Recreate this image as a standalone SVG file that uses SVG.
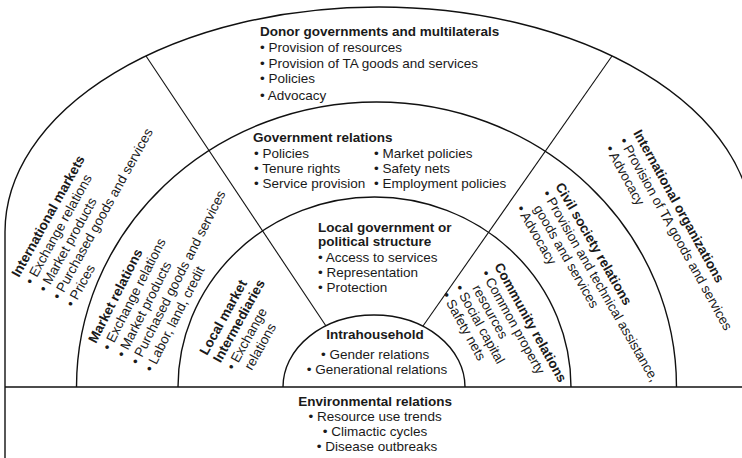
<svg xmlns="http://www.w3.org/2000/svg" width="742" height="458" viewBox="0 0 742 458">
<style>
.bg{fill:#fff}
.arc{fill:none;stroke:#111;stroke-width:1.4}
.div{fill:none;stroke:#111;stroke-width:1.1}
text{font-family:"Liberation Sans",Arial,sans-serif;font-size:13.5px;fill:#1a1a1a}
.b{font-weight:bold}
.c{text-anchor:middle}
</style>
<rect class="bg" x="0" y="0" width="742" height="458"/>
<g id="connectors">
<path class="arc" d="M5,458 L5,232 A374,225 0 0 1 753,232 L753,458"/>
<path class="arc" d="M76.5,387 A300,285 0 0 1 676.5,387"/>
<path class="arc" d="M178,387 A196.5,190 0 0 1 571,387"/>
<path class="arc" d="M283,387 A91,72 0 0 1 465,387"/>
<line class="div" x1="146" y1="56" x2="326" y2="326"/>
<line class="div" x1="612" y1="56" x2="423" y2="326"/>
<line class="arc" x1="5" y1="387" x2="742" y2="387"/>
</g>
<g id="donor">
<text x="260" y="35.5"><tspan class="b">Donor governments and multilaterals</tspan>
<tspan x="260" y="52">• Provision of resources</tspan>
<tspan x="260" y="67.5">• Provision of TA goods and services</tspan>
<tspan x="260" y="83">• Policies</tspan>
<tspan x="260" y="100">• Advocacy</tspan></text>
</g>
<g id="government">
<text x="253" y="141.5"><tspan class="b">Government relations</tspan>
<tspan x="254" y="157.5">• Policies</tspan>
<tspan x="254" y="172.5">• Tenure rights</tspan>
<tspan x="254" y="187.5">• Service provision</tspan>
<tspan x="374" y="157.5">• Market policies</tspan>
<tspan x="374" y="172.5">• Safety nets</tspan>
<tspan x="374" y="187.5">• Employment policies</tspan></text>
</g>
<g id="local-government">
<text x="318" y="232"><tspan class="b">Local government or</tspan>
<tspan class="b" x="318" y="246">political structure</tspan>
<tspan x="318" y="262">• Access to services</tspan>
<tspan x="318" y="277">• Representation</tspan>
<tspan x="318" y="292">• Protection</tspan></text>
</g>
<g id="intrahousehold">
<text class="c" x="377" y="339"><tspan class="b">Intrahousehold</tspan>
<tspan x="377" y="359">• Gender relations</tspan>
<tspan x="377" y="374">• Generational relations</tspan></text>
</g>
<g id="environmental">
<text class="c" x="377" y="406"><tspan class="b">Environmental relations</tspan>
<tspan x="377" y="421">• Resource use trends</tspan>
<tspan x="377" y="436">• Climactic cycles</tspan>
<tspan x="377" y="451">• Disease outbreaks</tspan></text>
</g>
<g id="international-markets">
<text transform="translate(19,278) rotate(-61)"><tspan class="b" x="0" y="0">International markets</tspan>
<tspan x="0" y="15.5">• Exchange relations</tspan>
<tspan x="0" y="31">• Market products</tspan>
<tspan x="0" y="46.5">• Purchased goods and services</tspan>
<tspan x="0" y="62">• Prices</tspan></text>
</g>
<g id="market-relations">
<text transform="translate(96,344) rotate(-63)"><tspan class="b" x="0" y="0">Market relations</tspan>
<tspan x="0" y="15.8">• Exchange relations</tspan>
<tspan x="0" y="31.6">• Market products</tspan>
<tspan x="0" y="47.4">• Purchased goods and services</tspan>
<tspan x="0" y="63.2">• Labor, land, credit</tspan></text>
</g>
<g id="local-market">
<text transform="translate(207,356) rotate(-61)"><tspan class="b" x="0" y="0">Local market</tspan>
<tspan class="b" x="0" y="15.5">Intermediaries</tspan>
<tspan x="0" y="31">• Exchange</tspan>
<tspan x="8.5" y="46.5">relations</tspan></text>
</g>
<g id="community">
<text transform="translate(494,266) rotate(61)"><tspan class="b" x="0" y="0">Community relations</tspan>
<tspan x="0" y="15">• Common property</tspan>
<tspan x="8.5" y="30">resources</tspan>
<tspan x="0" y="45">• Social capital</tspan>
<tspan x="0" y="60">• Safety nets</tspan></text>
</g>
<g id="civil-society">
<text transform="translate(555,186) rotate(60)"><tspan class="b" x="0" y="0">Civil society relations</tspan>
<tspan x="0" y="15">• Provision and technical assistance,</tspan>
<tspan x="8.5" y="30">goods and services</tspan>
<tspan x="0" y="45">• Advocacy</tspan></text>
</g>
<g id="international-organizations">
<text transform="translate(633,133) rotate(61)"><tspan class="b" x="0" y="0">International organizations</tspan>
<tspan x="0" y="16">• Provision of TA goods and services</tspan>
<tspan x="0" y="32">• Advocacy</tspan></text>
</g>
</svg>
